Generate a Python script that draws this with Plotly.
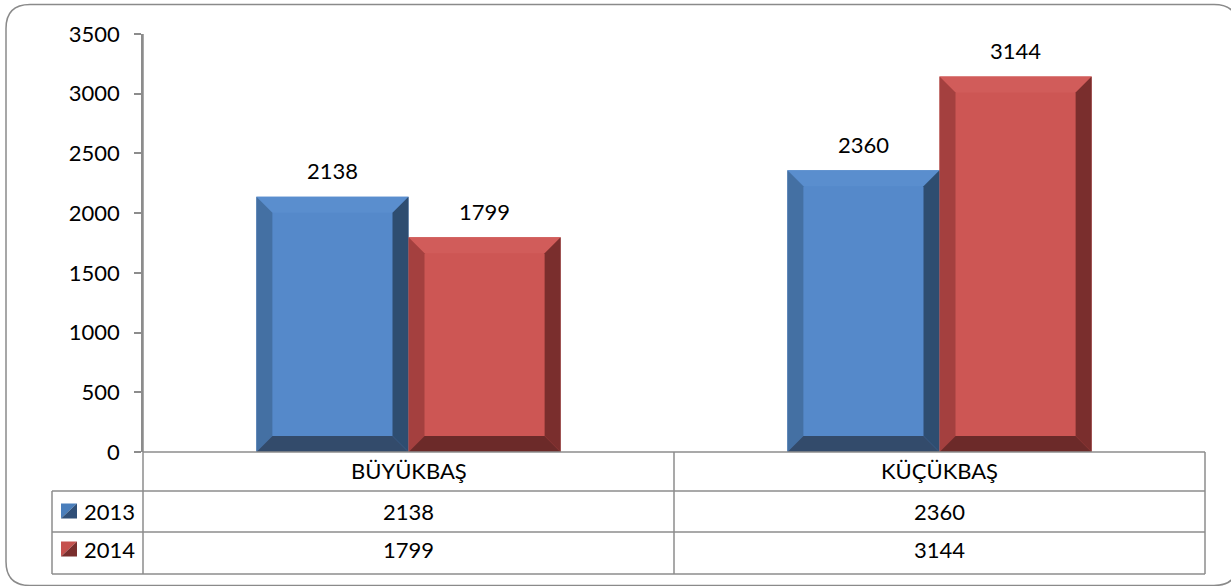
import plotly.graph_objects as go

# ---------------- data ----------------
categories = ["BÜYÜKBAŞ", "KÜÇÜKBAŞ"]
series_names = ["2013", "2014"]
values_2013 = [2138, 2360]
values_2014 = [1799, 3144]
y_tick_values = [0, 500, 1000, 1500, 2000, 2500, 3000, 3500]

# ---------------- styling ----------------
W, H = 1231, 586
PL, PR, PT, PB = 143, 1205, 34, 452          # plot area in pixels
ROW1, ROW2, ROW3 = 491, 532, 574              # table row lines
ROW_TEXT_Y = [511, 549]
CAT_TEXT_Y = 470
TABLE_LEFT = 52
FONT = "Lato"
FS = 22
GRID = "#8C8C8C"
BARGAP = 0.427
YMAX = 3500

styles = {
    "2013": dict(front="#5589CA", left="#4470A3", right="#2E4D70", bottom="#334B6B",
                 top="#5A8ECE", key_light="#4A7EBB", key_dark="#2F4F78"),
    "2014": dict(front="#CD5654", left="#A4403F", right="#7A2E2D", bottom="#6C2A29",
                 top="#D15C5A", key_light="#C5514E", key_dark="#7A2E2D"),
}


def px(x):
    return x / W


def py(y):
    return 1 - y / H


series = [("2013", values_2013), ("2014", values_2014)]
xpos = list(range(len(categories)))

fig = go.Figure()
for name, vals in series:
    fig.add_trace(go.Bar(x=xpos, y=vals, name=name,
                         marker=dict(color=styles[name]["front"], line=dict(width=0)),
                         hoverinfo="y"))

shapes = []
annotations = []

# bevels derived from bar geometry
half = (1 - BARGAP) / 2
units_per_px_x = 2 / (PR - PL)
units_per_px_y = YMAX / (PB - PT)
bev = 16
dx = bev * units_per_px_x
dy = bev * units_per_px_y
for si, (name, vals) in enumerate(series):
    st = styles[name]
    for i, v in zip(xpos, vals):
        x0 = i - half + si * half
        x1 = x0 + half
        polys = [
            (st["top"], [(x0, v), (x1, v), (x1 - dx, v - dy), (x0 + dx, v - dy)]),
            (st["left"], [(x0, 0), (x0, v), (x0 + dx, v - dy), (x0 + dx, dy)]),
            (st["right"], [(x1, 0), (x1, v), (x1 - dx, v - dy), (x1 - dx, dy)]),
            (st["bottom"], [(x0, 0), (x1, 0), (x1 - dx, dy), (x0 + dx, dy)]),
        ]
        for col, pts in polys:
            path = "M " + " L ".join(f"{a},{b}" for a, b in pts) + " Z"
            shapes.append(dict(type="path", xref="x", yref="y", path=path,
                               fillcolor=col, line=dict(width=0), layer="above"))
        annotations.append(dict(x=(x0 + x1) / 2, y=v, xref="x", yref="y", text=str(v),
                                showarrow=False, xanchor="center", yanchor="middle", yshift=26,
                                font=dict(family=FONT, size=FS, color="black")))

# outer rounded border
r = 24
bx0, by0, bx1, by1 = 6, 4.5, 1238, 585.5
border_path = (f"M {px(bx0 + r)},{py(by0)} L {px(bx1 - r)},{py(by0)} "
               f"Q {px(bx1)},{py(by0)} {px(bx1)},{py(by0 + r)} "
               f"L {px(bx1)},{py(by1 - r)} Q {px(bx1)},{py(by1)} {px(bx1 - r)},{py(by1)} "
               f"L {px(bx0 + r)},{py(by1)} Q {px(bx0)},{py(by1)} {px(bx0)},{py(by1 - r)} "
               f"L {px(bx0)},{py(by0 + r)} Q {px(bx0)},{py(by0)} {px(bx0 + r)},{py(by0)} Z")
shapes.append(dict(type="path", xref="paper", yref="paper", path=border_path,
                   line=dict(color="#8A8A8A", width=1.5), layer="below"))


def hline(y, x0, x1):
    shapes.append(dict(type="line", xref="paper", yref="paper", x0=px(x0), x1=px(x1),
                       y0=py(y), y1=py(y), line=dict(color=GRID, width=1.5)))


def vline(x, y0, y1):
    shapes.append(dict(type="line", xref="paper", yref="paper", x0=px(x), x1=px(x),
                       y0=py(y0), y1=py(y1), line=dict(color=GRID, width=1.5)))


# data table grid
hline(PB, PL, PR)
hline(ROW1, TABLE_LEFT, PR)
hline(ROW2, TABLE_LEFT, PR)
hline(ROW3, TABLE_LEFT, PR)
vline(PL, PT, ROW3)
vline(TABLE_LEFT, ROW1, ROW3)
col_w = (PR - PL) / len(categories)
for k in range(1, len(categories) + 1):
    vline(PL + k * col_w, PB, ROW3)

# table texts
for k, cat in enumerate(categories):
    cx = PL + (k + 0.5) * col_w
    annotations.append(dict(x=px(cx), y=py(CAT_TEXT_Y), xref="paper", yref="paper",
                            text=cat, showarrow=False, xanchor="center", yanchor="middle",
                            font=dict(family=FONT, size=FS, color="black")))
for (name, vals), cy in zip(series, ROW_TEXT_Y):
    st = styles[name]
    # legend key
    kx0, kx1 = 61, 77
    ky0, ky1 = cy - 7.5, cy + 7.5
    shapes.append(dict(type="path", xref="paper", yref="paper",
                       path=f"M {px(kx0)},{py(ky0)} L {px(kx1)},{py(ky0)} L {px(kx0)},{py(ky1)} Z",
                       fillcolor=st["key_light"], line=dict(width=0)))
    shapes.append(dict(type="path", xref="paper", yref="paper",
                       path=f"M {px(kx1)},{py(ky0)} L {px(kx1)},{py(ky1)} L {px(kx0)},{py(ky1)} Z",
                       fillcolor=st["key_dark"], line=dict(width=0)))
    annotations.append(dict(x=px(82), y=py(cy), xref="paper", yref="paper", text=name,
                            showarrow=False, xanchor="left", yanchor="middle",
                            font=dict(family=FONT, size=FS, color="black")))
    for k, v in enumerate(vals):
        cx = PL + (k + 0.5) * col_w
        annotations.append(dict(x=px(cx), y=py(cy), xref="paper", yref="paper", text=str(v),
                                showarrow=False, xanchor="center", yanchor="middle",
                                font=dict(family=FONT, size=FS, color="black")))

fig.update_layout(
    width=W, height=H, autosize=False,
    margin=dict(l=0, r=0, t=0, b=0, pad=0, autoexpand=False),
    paper_bgcolor="white", plot_bgcolor="white",
    barmode="group", bargap=BARGAP, bargroupgap=0,
    showlegend=False,
    xaxis=dict(domain=[px(PL), px(PR)], range=[-0.5, len(categories) - 0.5],
               showticklabels=False, showgrid=False, zeroline=False, showline=False,
               ticks="", fixedrange=True, automargin=False),
    yaxis=dict(domain=[py(PB), py(PT)], range=[0, YMAX], tickvals=y_tick_values,
               showgrid=False, zeroline=False, showline=True, linecolor=GRID, linewidth=1.5,
               ticks="outside", ticklen=7, tickcolor=GRID, tickwidth=1.5,
               ticklabelstandoff=10, automargin=False, fixedrange=True,
               tickfont=dict(family=FONT, size=FS, color="black")),
    shapes=shapes,
    annotations=annotations,
)

fig.write_html("out.html", config={"displayModeBar": False},
               post_script="document.body.style.margin='0';document.body.style.overflow='hidden';")
